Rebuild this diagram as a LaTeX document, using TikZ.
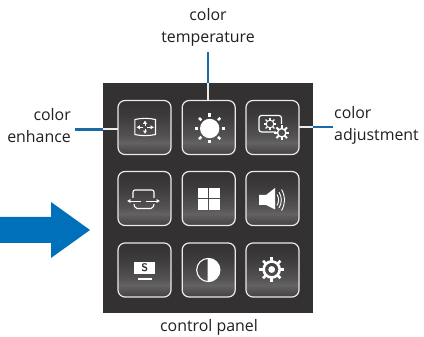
\documentclass[tikz,border=0pt]{standalone}
\usepackage{fontspec}
\setmainfont{Open Sans}
\usetikzlibrary{arrows.meta,calc}
\definecolor{panelc}{HTML}{333132}
\definecolor{blueA}{HTML}{0070BA}
\definecolor{blueB}{HTML}{1A6AA5}
\definecolor{edgec}{HTML}{EAEAEA}
\definecolor{txt}{HTML}{231F20}
\pgfdeclareverticalshading{btnshade}{100bp}{
  color(0bp)=(panelc);
  color(25bp)=(panelc!92!white);
  color(30bp)=(panelc!85!white);
  color(36bp)=(panelc!76!white);
  color(42bp)=(panelc!84!white);
  color(60bp)=(panelc!95!white);
  color(75bp)=(panelc);
  color(100bp)=(panelc)}
\tikzset{
  btn/.style={draw=edgec,line width=1.2pt,rounded corners=7pt,shading=btnshade,minimum width=53pt,minimum height=54pt,inner sep=0pt,outer sep=0pt},
  lbl/.style={text=txt,font=\fontsize{15.9}{22}\selectfont,inner sep=0pt},
  inblue/.style={draw=blueB,line width=2.2pt},
  inwhite/.style={draw=white!92!black,line width=2pt},
  icon/.style={draw=white,line width=1.1pt},
  smalltip/.style={-{Latex[length=3.4pt,width=4.4pt]},draw=white,line width=.9pt}
}
\begin{document}
\begin{tikzpicture}[x=1pt,y=-1pt]
\useasboundingbox (0,0) rectangle (424,337);
\fill[white] (0,0) rectangle (424,337);
\node[fill=panelc,minimum width=210pt,minimum height=230pt,inner sep=0pt,outer sep=0pt] (panel) at (208,198) {};
\fill[blueA] (0,217) -- (51,217) -- (51,202) -- (90,230) -- (51,258) -- (51,243) -- (0,243) -- cycle;

% buttons
\node[btn] (b1) at (144.5,127.5) {};
\node[btn] (b2) at (208.7,127.5) {};
\node[btn] (b3) at (272.5,127.5) {};
\node[btn] (b4) at (144.5,198.5) {};
\node[btn] (b5) at (208.7,198.5) {};
\node[btn] (b6) at (272.5,198.5) {};
\node[btn] (b7) at (144.5,270) {};
\node[btn] (b8) at (208.7,270) {};
\node[btn] (b9) at (272.5,270) {};

% labels
\node[lbl,align=right,anchor=east] (lenh) at (71,126) {color\\enhance};
\node[lbl,align=center] (ltemp) at (208,27) {color\\temperature};
\node[lbl,align=left,anchor=west] (ladj) at (334,125) {color\\adjustment};
\node[lbl] (lpanel) at (209,327) {control panel};

% connectors
\coordinate (ca) at (75,129.5);
\coordinate (cb) at (103,129.5);
\draw[inblue] (ca) -- (cb);
\draw[inwhite] (cb) -- (cb -| b1.west);
\coordinate (ct) at (208,52);
\coordinate (cu) at (208,83);
\draw[inblue,line width=2.6pt] (ct) -- (cu);
\draw[inwhite] (cu) -- (cu |- b2.north);
\coordinate (cr) at (333,127);
\coordinate (cs) at (313,127);
\draw[inblue] (cr) -- (cs);
\draw[inwhite] (cs) -- (cs -| b3.east);

% icon 1: enhance
\draw[icon] (134.8,119.5) .. controls (141,118) and (149,118) .. (155.5,119.5) -- (155.5,134.5) .. controls (149,136) and (141,136) .. (134.8,134.5) -- cycle;
\draw[smalltip] (143,127.3) -- (136.4,127.3);
\draw[smalltip] (147,127.3) -- (154,127.3);
\draw[smalltip] (145,125.8) -- (145,120.4);
\draw[smalltip] (145,128.8) -- (145,134);

% icon 2: sun
\fill[white] (209.7,128.5) circle (9.7);
\foreach \a in {0,45,...,315}
  \draw[white,line width=2.5pt] ($(209.7,128.5)+(\a:11.8)$) -- ($(209.7,128.5)+(\a:15)$);

% icon 3: adjust
\draw[icon,line width=1.2pt,rounded corners=2.5pt] (276,132) -- (259,132) -- (259,115.5) -- (281.5,115.5) -- (281.5,124);
\foreach \cx/\cy/\ro/\ri/\lw in {270/124/6.2/3.8/.9,281.7/132.8/7.5/4.2/1.3}{
  \draw[white,line width=\lw pt] (\cx,\cy) circle (\ri);
  \foreach \a in {0,45,...,315}
    \draw[white,line width=1.5*\lw pt] ($(\cx,\cy)+(\a:\ri)$) -- ($(\cx,\cy)+(\a:\ro)$);
}

% icon 4: wide
\draw[icon,rounded corners=2pt] (133,198) -- (133,190) -- (154,190) -- (154,198);
\draw[icon,rounded corners=2pt] (134,204) -- (135,208.5) -- (153,208.5) -- (154,204);
\draw[smalltip] (141,201) -- (127,201);
\draw[smalltip] (146,201) -- (160,201);

% icon 5: windows
\foreach \qx/\qy in {198/188,209.4/188,198/199.4,209.4/199.4}
  \fill[white] (\qx,\qy) rectangle +(10.2,10.2);

% icon 6: speaker
\fill[white] (259,195) -- (266,195) -- (275,188) -- (275,209.5) -- (266,205) -- (259,205) -- cycle;
\draw[white,line width=.9pt] (277,194.5) to[bend left=30] (277,205.5);
\draw[white,line width=.9pt] (279,192) to[bend left=30] (279,208);
\draw[white,line width=.9pt] (281.5,189.5) to[bend left=30] (281.5,210.5);

% icon 7: S
\fill[white] (134.3,261.7) rectangle (155,274.3);
\node[text=panelc,font=\fontsize{11}{11}\bfseries\sffamily\selectfont,inner sep=0pt] (sglyph) at (144.7,268) {S};
\fill[white] (138,278) rectangle (152,280);

% icon 8: contrast
\begin{scope}
\clip (207.5,255) rectangle (225,285);
\fill[white] (208.3,270) circle (11.6);
\end{scope}
\draw[white,line width=1.1pt] (208.3,270) circle (11.6);

% icon 9: gear
\draw[white,line width=2.6pt] (271.7,269.5) circle (8);
\fill[white] (271.7,269.5) circle (3.4);
\foreach \a in {0,45,...,315}
  \draw[white,line width=2.6pt] ($(271.7,269.5)+(\a:8)$) -- ($(271.7,269.5)+(\a:12.3)$);
\end{tikzpicture}
\end{document}
